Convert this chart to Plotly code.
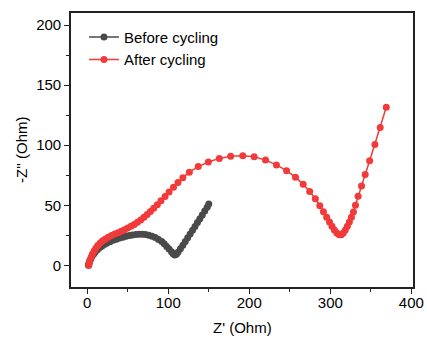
import plotly.graph_objects as go

before_x = [1.5, 2, 3, 4.5, 6, 8, 10, 12.5, 15, 18, 21, 24, 28, 32, 36, 40, 44, 48, 52, 56, 60, 64, 68, 72, 76, 80, 84, 88, 92, 95, 98, 101, 104, 106, 108, 110, 112, 115, 118, 121, 124, 127, 130, 133, 136, 139, 142, 145, 148, 150]
before_y = [0, 1.5, 3.5, 5.5, 7.5, 9.5, 11.3, 13, 14.6, 16, 17.3, 18.5, 19.7, 20.8, 21.8, 22.7, 23.5, 24.2, 24.8, 25.3, 25.6, 25.8, 25.8, 25.6, 25.1, 24.3, 23.1, 21.6, 19.8, 17.9, 15.8, 13.6, 11.4, 9.6, 8.6, 9.2, 11, 13.8, 16.8, 19.8, 22.9, 26, 29.2, 32.4, 35.6, 38.8, 42, 45.2, 48.4, 51]

after_x = [2, 2.5, 3.5, 5, 6.5, 8.5, 10.5, 13, 16, 19, 22.5, 26, 30, 34, 38, 42, 46, 50, 54, 58, 62, 66, 70, 74, 78, 82, 86.5, 91, 96, 101, 106.5, 112, 118, 126, 137, 149.5, 163, 177, 192, 206, 220, 233.5, 246, 257, 266.5, 274.5, 281.5, 287, 291.5, 295.5, 299, 302, 305, 308, 311, 313.5, 316, 318.5, 321, 323.5, 326, 328.5, 331, 334.3, 338.5, 343, 348.5, 355, 361.5, 369]
after_y = [0, 2, 4.5, 7, 9.5, 12, 14.3, 16.5, 18.6, 20.4, 22, 23.5, 24.8, 26, 27.2, 28.4, 29.6, 31, 32.5, 34.1, 35.9, 37.8, 40, 42.3, 44.8, 47.5, 50.5, 53.8, 57.3, 61, 65, 69, 73, 77.5, 82.2, 86, 89, 90.8, 91.3, 90.4, 87.6, 83.6, 78.8, 73.4, 67.4, 61.4, 55.4, 49.6, 44.6, 40, 36, 32.5, 29.5, 27, 25.5, 25.5, 27, 29.5, 32.5, 36, 40, 44.5, 50, 57.5, 66, 75.6, 87, 100.5, 114.8, 131.5]

x_ticks = [0, 100, 200, 300, 400]
y_ticks = [0, 50, 100, 150, 200]
x_title = "Z' (Ohm)"
y_title = "-Z'' (Ohm)"

FONT = "Liberation Sans, Arial"
W, H = 427, 343
ML, MR, MT, MB = 71, 14, 13, 56

fig = go.Figure()
fig.add_trace(go.Scatter(x=before_x, y=before_y, mode="lines+markers", name="Before cycling",
                         line=dict(color="#4a4a4a", width=1.5),
                         marker=dict(color="#4a4a4a", size=7)))
fig.add_trace(go.Scatter(x=after_x, y=after_y, mode="lines+markers", name="After cycling",
                         line=dict(color="#f23a3a", width=1.5),
                         marker=dict(color="#f23a3a", size=7)))

axis_common = dict(showgrid=False, zeroline=False, showline=True, linecolor="#222", linewidth=1.6,
                   mirror=True, ticks="outside", ticklen=5, tickwidth=1.2, tickcolor="#222",
                   automargin=False,
                   tickfont=dict(family=FONT, size=15, color="black"))

fig.update_xaxes(range=[-20, 402], tickvals=x_ticks, ticklabelstandoff=-4,
                 minor=dict(ticks="outside", ticklen=3, tickcolor="#222", dtick=50, tick0=0),
                 **axis_common)
fig.update_yaxes(range=[-18, 210], tickvals=y_ticks,
                 minor=dict(ticks="outside", ticklen=3, tickcolor="#222", dtick=25, tick0=0),
                 **axis_common)

plot_h = H - MT - MB
plot_w = W - ML - MR
fig.add_annotation(text=x_title, xref="paper", yref="paper", x=0.5, y=-(327 - (H - MB)) / plot_h,
                   xanchor="center", yanchor="middle", showarrow=False,
                   font=dict(family=FONT, size=15, color="black"))
fig.add_annotation(text=y_title, xref="paper", yref="paper", x=-(ML - 21) / plot_w, y=0.5,
                   xanchor="center", yanchor="middle", showarrow=False, textangle=-90,
                   font=dict(family=FONT, size=15, color="black"))

fig.update_layout(width=W, height=H, margin=dict(l=ML, r=MR, t=MT, b=MB),
                  plot_bgcolor="white", paper_bgcolor="white",
                  legend=dict(x=0.038, y=0.972, xanchor="left", yanchor="top", bgcolor="rgba(0,0,0,0)",
                              font=dict(family=FONT, size=15, color="black"),
                              tracegroupgap=0, itemwidth=30),
                  showlegend=True)

fig.write_html("out.html", config={"displayModeBar": False},
               post_script="document.body.style.margin='0';")
